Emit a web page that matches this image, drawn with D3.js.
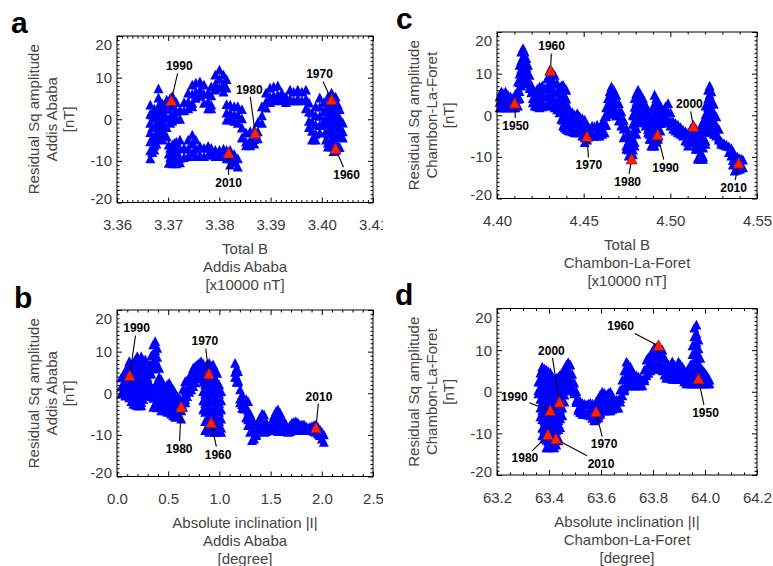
<!DOCTYPE html>
<html>
<head>
<meta charset="utf-8">
<script src="https://cdn.jsdelivr.net/npm/d3@7/dist/d3.min.js"></script>
<style>
  html, body { margin: 0; padding: 0; background: #fff; }
  svg { display: block; }
  text { font-family: "Liberation Sans", Arial, Helvetica, sans-serif; }
</style>
</head>
<body>
<svg id="fig" width="773" height="566"></svg>
<script>
// ---------------------------------------------------------------
// Residual Sq amplitude (nT) against main-field quantities.
// Each entry: [x value, [residual Sq values observed at that x]]
// ---------------------------------------------------------------

// Addis Ababa: total field B (x10000 nT)
const addisSqVsTotalB = [
  [3.3665, [3.4, 1.2, -1.0, -3.2, -5.4, -7.6, -9.5]],
  [3.3669, [1.0, -2.0, -5.0, -8.0]],
  [3.3673, [2.4, 0.2, -2.0, -4.2, -6.4, -7.4]],
  [3.3677, [1.5, -1.0, -3.5, -6.0]],
  [3.3681, [7.3, 5.1, 2.9, 0.7, -1.5, -3.7, -4.6]],
  [3.3685, [4.0, 1.8, -0.6, -3.0, -4.8]],
  [3.3689, [3.6, 1.4, -0.8, -3.0, -5.0]],
  [3.3693, [2.5, 0.3, -1.9, -4.0]],
  [3.3697, [4.6, 2.4, 0.2, -2.0, -4.2]],
  [3.3701, [-6.2, -8.4, -10.6]],
  [3.3704, [5.0, 2.8, 0.6, -1.0, -7.0, -9.2]],
  [3.3708, [5.4, 3.2, 1.0, -0.5, -6.2, -8.4, -10.7]],
  [3.3712, [4.6, 2.4, 0.2, -5.8, -8.0, -10.2]],
  [3.3716, [4.0, 1.8, 0.0, -5.5, -7.7, -10.0, -10.7]],
  [3.3723, [2.2, 0.0, -5.0, -7.2, -9.4, -10.5]],
  [3.3731, [4.0, 2.0, -7.0, -9.2]],
  [3.3739, [6.3, 4.1, 2.5, -5.0, -7.2, -9.0]],
  [3.3747, [8.2, 6.0, 3.8, 3.0, -3.8, -6.0, -8.2]],
  [3.3754, [8.7, 6.5, 5.0, -5.0, -7.2, -9.0]],
  [3.3762, [9.0, 7.0, 5.5, -6.5, -8.8]],
  [3.3770, [8.2, 6.0, 3.8, -7.0, -9.0]],
  [3.3778, [6.3, 4.1, 2.5, -6.5, -8.7]],
  [3.3784, [7.8, 5.6, 3.4, 2.5, -7.0, -8.5]],
  [3.3792, [10.6, 8.4, 7.0, -7.5, -9.0]],
  [3.3800, [11.8, 9.6, 7.5, -7.5, -9.0]],
  [3.3808, [10.6, 8.4, 6.5, -7.2, -9.0]],
  [3.3814, [9.5, 7.5, 3.5, 1.5, -0.2, -7.5, -9.5]],
  [3.3821, [3.4, 1.4, -0.2, -7.5, -9.5, -11.0]],
  [3.3829, [3.0, 1.0, -0.5, -8.5, -10.5]],
  [3.3836, [3.0, 1.0, -1.0, -9.5, -11.5]],
  [3.3844, [2.3, 0.1, -2.1, -4.5]],
  [3.3852, [-3.3, -5.5, -6.4]],
  [3.3860, [-3.0, -5.2, -6.4]],
  [3.3868, [-2.7, -4.9, -6.0]],
  [3.3875, [-0.8, -3.0, -4.7]],
  [3.3883, [3.0, 0.8, -1.0]],
  [3.3891, [6.3, 4.1, 2.7]],
  [3.3899, [7.5, 5.3, 4.0]],
  [3.3906, [7.8, 5.6, 4.4]],
  [3.3914, [8.0, 5.8, 4.7]],
  [3.3922, [6.3, 4.4]],
  [3.3930, [5.3, 4.0]],
  [3.3938, [7.0, 4.8, 4.4]],
  [3.3945, [6.5, 4.4]],
  [3.3953, [7.0, 4.8, 4.4]],
  [3.3961, [6.5, 4.4]],
  [3.3969, [7.0, 4.8, 2.5]],
  [3.3975, [3.9, 1.7, -0.5, -2.0]],
  [3.3981, [1.5, -0.7, -2.9, -5.0]],
  [3.3988, [3.0, 0.8, -1.4, -3.6, -5.0]],
  [3.3996, [5.1, 2.9, 0.7, -1.5, -3.3]],
  [3.4004, [4.0, 1.8, -0.4, -1.0]],
  [3.4008, [2.0, -0.5, -3.0, -5.0]],
  [3.4012, [5.3, 3.1, 0.9, -1.3, -3.5, -5.7, -6.7]],
  [3.4016, [4.5, 2.0, -0.5, -3.0, -5.5]],
  [3.4019, [6.3, 4.1, 1.9, -0.3, -2.5, -4.7, -6.7]],
  [3.4023, [4.0, 1.5, -1.0, -3.5, -6.0, -7.8]],
  [3.4027, [5.3, 3.1, 0.9, -1.3, -3.5, -5.7, -7.5]],
  [3.4031, [3.5, 1.0, -1.5, -4.0, -6.5]],
  [3.4035, [2.3, 0.1, -2.1, -4.3, -6.8]],
  [3.4041, [-0.9, -3.0, -4.5]]
];

// Addis Ababa: absolute inclination |I| (degree)
const addisSqVsIncl = [
  [0.042, [3.7, 1.5, -0.2]],
  [0.062, [4.2, 2.0, 0.0]],
  [0.081, [5.2, 3.0, 0.8, -0.7]],
  [0.100, [6.2, 4.0, 1.8, -0.4]],
  [0.120, [7.6, 5.4, 3.2, 1.0, -1.1]],
  [0.140, [6.5, 4.3, 2.1, -0.1, -2.0]],
  [0.159, [7.2, 5.0, 2.8, 0.6, -1.6, -2.6]],
  [0.179, [8.0, 5.8, 3.6, 1.4, -0.8, -2.8]],
  [0.198, [8.8, 6.6, 4.4, 2.2, 0.0, -2.2, -3.0]],
  [0.218, [7.5, 5.3, 3.1, 0.9, -1.3, -3.0]],
  [0.237, [8.8, 6.6, 4.4, 2.2, 0.0, -2.2, -3.0]],
  [0.256, [7.0, 4.8, 2.6, 0.4, -1.5]],
  [0.276, [8.0, 5.8, 3.6, 1.4, -0.6]],
  [0.296, [6.0, 3.8, 1.6, 0.0]],
  [0.315, [6.8, 4.6, 2.4, 0.2]],
  [0.335, [9.0, 6.8, 4.6, 1.5, -0.8]],
  [0.354, [11.6, 9.4, 7.2, 5.8, 1.0, -1.2, -3.4]],
  [0.373, [12.4, 10.2, 8.0, 6.0, 1.8, -0.4, -2.6]],
  [0.393, [10.8, 8.6, 6.5, 2.0, -0.2, -2.4, -3.5]],
  [0.412, [6.0, 3.8, 1.6, -0.6, -2.8]],
  [0.432, [3.2, 1.0, -1.2, -3.4, -4.2]],
  [0.451, [2.0, -0.2, -2.4, -4.0]],
  [0.471, [1.2, -1.0, -3.2, -4.2]],
  [0.490, [2.0, -0.2, -2.4, -4.5]],
  [0.510, [2.4, 0.2, -2.0, -4.2, -4.6]],
  [0.530, [1.5, -0.7, -2.9, -5.0]],
  [0.549, [0.8, -1.4, -3.6, -5.4]],
  [0.568, [0.0, -2.2, -4.4, -5.8]],
  [0.588, [-0.8, -3.0, -5.2, -5.4]],
  [0.607, [-1.2, -3.4, -5.6]],
  [0.627, [-2.0, -4.2, -6.2]],
  [0.646, [1.0, -1.2, -3.4]],
  [0.666, [2.8, 0.6, -1.6, -2.3]],
  [0.685, [3.0, 0.8, -0.8]],
  [0.705, [3.6, 1.4, 0.2]],
  [0.725, [4.8, 2.6, 0.8]],
  [0.744, [6.0, 3.8, 1.6]],
  [0.764, [6.4, 4.2, 2.5]],
  [0.783, [6.8, 4.6, 3.4]],
  [0.803, [7.2, 5.0, 3.6]],
  [0.822, [7.6, 5.4, 3.8]],
  [0.842, [7.0, 4.8, 2.6, 0.4, -1.8, -4.0]],
  [0.861, [6.4, 4.2, 2.0, -0.2, -2.4, -4.6, -6.8, -9.0]],
  [0.880, [6.8, 4.6, 2.4, 0.2, -2.0, -4.2, -6.4, -8.6]],
  [0.900, [7.2, 5.0, 2.8, 0.6, -1.6, -3.8, -6.0, -8.2, -9.4]],
  [0.919, [6.5, 4.3, 2.1, -0.1, -2.3, -4.5, -6.7, -8.9]],
  [0.939, [6.8, 4.6, 2.4, 0.2, -2.0, -4.2, -6.4, -8.6, -9.0]],
  [0.958, [5.6, 3.4, 1.2, -1.0, -3.2, -5.4, -7.6, -9.4]],
  [0.978, [4.8, 2.6, 0.4, -1.8, -4.0, -6.2, -8.4, -9.4]],
  [0.997, [2.0, -0.2, -2.4, -4.6, -6.8, -9.0]],
  [1.017, [0.4, -1.8, -4.0, -6.2, -8.4, -9.4]],
  [1.153, [7.2, 5.0, 3.8]],
  [1.168, [6.0, 3.8, 2.6]],
  [1.182, [5.2, 3.0, 2.6]],
  [1.202, [0.8, -1.4, -2.3]],
  [1.222, [-0.5, -2.7, -3.6]],
  [1.241, [-2.0, -3.8]],
  [1.261, [-1.5, -3.7, -5.9]],
  [1.280, [-2.0, -4.2, -6.4, -7.8]],
  [1.300, [-5.0, -7.2, -9.4]],
  [1.319, [-6.8, -9.0, -11.4]],
  [1.338, [-7.0, -9.2, -11.0]],
  [1.358, [-7.6, -9.8, -10.2]],
  [1.378, [-6.8, -9.0]],
  [1.397, [-6.0, -8.2, -8.6]],
  [1.417, [-5.0, -7.2, -9.0]],
  [1.436, [-5.2, -7.4, -9.4]],
  [1.456, [-7.0, -9.2]],
  [1.475, [-8.4, -9.0]],
  [1.495, [-7.6, -9.0]],
  [1.514, [-6.8, -8.6]],
  [1.534, [-5.4, -7.6, -9.0]],
  [1.553, [-4.4, -6.6, -8.8]],
  [1.572, [-4.0, -6.2, -8.4, -9.2]],
  [1.592, [-4.8, -7.0, -9.0]],
  [1.612, [-5.8, -8.0, -9.0]],
  [1.631, [-6.8, -9.0]],
  [1.651, [-7.6, -9.2]],
  [1.670, [-8.4, -9.4]],
  [1.690, [-7.8, -9.2]],
  [1.709, [-7.2, -9.0]],
  [1.728, [-7.0, -8.8]],
  [1.747, [-6.8, -8.6]],
  [1.767, [-7.2, -8.8]],
  [1.786, [-7.6, -9.0]],
  [1.806, [-7.6, -9.0]],
  [1.826, [-7.6, -9.0]],
  [1.845, [-8.0, -9.0]],
  [1.865, [-8.4, -9.0]],
  [1.884, [-8.2, -9.0]],
  [1.904, [-8.0, -9.0]],
  [1.923, [-7.8, -9.2]],
  [1.943, [-7.6, -9.4]],
  [1.962, [-8.2, -9.8]],
  [1.981, [-8.8, -10.2]],
  [2.000, [-9.4, -11.0]],
  [2.020, [-10.0, -11.8]]
];

// Chambon-La-Foret: total field B (x10000 nT)
const chambonSqVsTotalB = [
  [4.4015, [4.4, 3.1, 1.8]],
  [4.4025, [5.6, 3.5, 1.8]],
  [4.4035, [5.2, 3.5, 1.8]],
  [4.4049, [5.6, 3.6, 1.8]],
  [4.4063, [4.8, 3.3, 1.8]],
  [4.4078, [4.4, 2.6, 1.8]],
  [4.4092, [4.0, 1.8]],
  [4.4106, [5.0, 3.0, 1.8]],
  [4.4121, [8.0, 5.9, 3.8, 2.2]],
  [4.4130, [12.0, 9.9, 7.8, 5.7, 4.0]],
  [4.4140, [15.2, 13.1, 11.0, 8.9, 7.0]],
  [4.4150, [16.0, 13.9, 11.8, 9.7, 7.6]],
  [4.4159, [15.2, 13.1, 11.0, 8.9, 7.8]],
  [4.4169, [13.6, 11.5, 9.4, 7.6]],
  [4.4179, [12.0, 9.9, 7.8]],
  [4.4188, [9.6, 7.5, 6.4]],
  [4.4198, [7.2, 5.4]],
  [4.4207, [6.0, 4.0, 3.0]],
  [4.4217, [5.6, 3.5, 2.2]],
  [4.4232, [6.2, 4.1, 2.0]],
  [4.4246, [6.8, 4.7, 2.6, 1.8]],
  [4.4261, [7.0, 4.9, 2.8, 2.0]],
  [4.4275, [6.4, 4.3, 2.2]],
  [4.4290, [8.8, 6.7, 4.6, 2.5]],
  [4.4304, [10.8, 8.7, 6.6, 4.5, 3.0]],
  [4.4318, [10.4, 8.3, 6.2, 4.1, 2.2]],
  [4.4332, [9.6, 7.5, 5.4, 3.3, 1.8]],
  [4.4347, [7.6, 5.5, 3.4, 1.3]],
  [4.4361, [6.4, 4.3, 2.2, 0.6]],
  [4.4371, [7.0, 4.9, 2.8, 0.7, -1.0]],
  [4.4381, [7.2, 5.1, 3.0, 0.9, -1.2, -2.6]],
  [4.4390, [6.5, 4.4, 2.3, 0.2, -1.9, -3.0]],
  [4.4400, [6.0, 3.9, 1.8, -0.3, -2.4, -3.4]],
  [4.4410, [2.0, -0.1, -2.2, -3.6]],
  [4.4419, [-0.4, -2.5, -3.8]],
  [4.4434, [0.6, -1.5, -3.6, -4.0]],
  [4.4448, [0.0, -2.1, -4.2]],
  [4.4463, [0.4, -1.7, -3.8, -4.2]],
  [4.4477, [-0.4, -2.5, -4.2]],
  [4.4492, [-0.8, -2.9, -5.0]],
  [4.4506, [-1.2, -3.3, -5.4, -6.6]],
  [4.4520, [-2.4, -4.5, -6.0]],
  [4.4534, [-3.2, -5.0]],
  [4.4549, [-2.6, -4.7, -5.0]],
  [4.4563, [-2.8, -5.0]],
  [4.4578, [-2.4, -4.5, -5.0]],
  [4.4592, [-3.2, -5.0]],
  [4.4607, [-1.8, -3.9, -4.6]],
  [4.4621, [-0.4, -2.5, -4.2]],
  [4.4630, [1.8, -0.3, -2.4]],
  [4.4640, [4.0, 1.9, 0.2]],
  [4.4650, [5.6, 3.5, 1.4, 0.6]],
  [4.4660, [6.8, 4.7, 2.6, 1.0]],
  [4.4674, [6.0, 3.9, 1.8, 0.2]],
  [4.4688, [4.8, 2.7, 0.6, -0.2]],
  [4.4703, [2.8, 0.7, -1.4]],
  [4.4717, [0.8, -1.3, -2.6]],
  [4.4731, [-1.2, -3.3, -5.4]],
  [4.4746, [-3.2, -5.3, -7.4, -8.2]],
  [4.4760, [-4.2, -6.3, -8.4, -9.8]],
  [4.4775, [-4.8, -6.9, -9.0, -10.6]],
  [4.4784, [0.0, -2.1, -4.2, -6.3, -8.4, -9.5]],
  [4.4794, [4.0, 1.9, -0.2, -2.3, -4.4, -6.5, -7.4]],
  [4.4804, [5.2, 3.1, 1.0, -1.1, -3.2, -4.6]],
  [4.4814, [6.0, 3.9, 1.8, -0.3, -1.8]],
  [4.4828, [5.0, 2.9, 0.8, -1.3]],
  [4.4842, [4.0, 1.9, -0.2, -1.0]],
  [4.4857, [2.4, 0.3, -1.8, -2.6]],
  [4.4871, [0.8, -1.3, -3.4, -4.2]],
  [4.4880, [-0.4, -2.5, -4.6, -5.8]],
  [4.4890, [-1.6, -3.7, -5.8, -7.4]],
  [4.4900, [1.6, -0.5, -2.6, -4.7, -6.8, -7.4]],
  [4.4909, [4.8, 2.7, 0.6, -1.5, -3.6, -5.7, -7.4]],
  [4.4919, [4.0, 1.9, -0.2, -2.3, -4.4, -6.5]],
  [4.4929, [3.2, 1.1, -1.0, -3.1, -5.2, -5.8]],
  [4.4943, [2.2, 0.1, -2.0, -3.8]],
  [4.4958, [1.2, -0.9, -1.8]],
  [4.4972, [2.0, -0.1, -1.8]],
  [4.4987, [2.8, 0.7, -1.4, -1.8]],
  [4.5001, [0.6, -1.5, -2.6]],
  [4.5016, [-1.6, -3.4]],
  [4.5030, [-2.0, -3.8]],
  [4.5044, [-2.4, -4.2]],
  [4.5059, [-3.0, -4.6]],
  [4.5073, [-3.6, -5.0]],
  [4.5088, [-4.0, -6.1, -6.2]],
  [4.5102, [-4.4, -6.5, -7.4]],
  [4.5117, [-3.4, -5.5, -6.6]],
  [4.5131, [-2.4, -4.5, -5.8]],
  [4.5146, [-3.2, -5.3, -7.4, -8.2]],
  [4.5160, [-4.0, -6.1, -8.2, -10.3, -10.6]],
  [4.5175, [-2.8, -4.9, -7.0, -9.1, -10.6]],
  [4.5189, [-1.6, -3.7, -5.8, -7.9, -10.0, -10.6]],
  [4.5203, [2.2, 0.1, -2.0, -4.1, -6.2, -7.0]],
  [4.5218, [6.0, 3.9, 1.8, -0.3, -2.4, -3.4]],
  [4.5227, [7.0, 4.9, 2.8, 0.7, -1.4, -3.5]],
  [4.5237, [5.6, 3.5, 1.4, -0.7, -2.8, -4.2]],
  [4.5251, [2.6, 0.5, -1.6, -3.7, -4.6]],
  [4.5265, [-0.4, -2.5, -4.6, -5.0]],
  [4.5280, [-3.4, -5.5, -6.0]],
  [4.5294, [-6.4, -7.0]],
  [4.5309, [-6.8, -7.2]],
  [4.5323, [-7.2, -7.4]],
  [4.5338, [-7.6, -9.0]],
  [4.5352, [-8.0, -9.8]],
  [4.5361, [-8.8, -10.9, -12.0]],
  [4.5371, [-9.6, -11.7, -13.4]],
  [4.5386, [-10.0, -12.1, -13.2]],
  [4.5400, [-10.4, -12.5, -13.0]],
  [4.5410, [-10.6, -12.7]],
  [4.5419, [-10.8, -12.6]]
];

// Chambon-La-Foret: absolute inclination |I| (degree)
const chambonSqVsIncl = [
  [63.359, [2.3, 0.2, -0.5]],
  [63.367, [4.5, 2.4, 0.3, -1.8, -3.9, -6.0]],
  [63.374, [5.9, 3.8, 1.7, -0.4, -2.5, -4.6, -6.7, -8.8, -10.6]],
  [63.382, [5.5, 3.4, 1.3, -0.8, -2.9, -5.0, -7.1, -9.2, -11.3]],
  [63.390, [5.2, 3.1, 1.0, -1.1, -3.2, -5.3, -7.4, -9.5, -11.6, -13.5]],
  [63.397, [4.8, 2.7, 0.6, -1.5, -3.6, -5.7, -7.8, -9.9, -12.0, -13.5]],
  [63.405, [4.5, 2.4, 0.3, -1.8, -3.9, -6.0, -8.1, -10.2, -12.3, -13.5]],
  [63.413, [3.6, 1.5, -0.6, -2.7, -4.8, -6.9, -9.0, -11.1, -13.2]],
  [63.420, [2.8, 0.7, -1.4, -3.5, -5.6, -7.7, -9.8, -11.9, -13.5]],
  [63.428, [3.2, 1.1, -1.0, -3.1, -5.2, -7.3, -9.4, -11.5, -12.8]],
  [63.436, [3.5, 1.4, -0.7, -2.8, -4.9, -7.0, -9.1, -11.2, -11.8]],
  [63.443, [4.0, 1.9, -0.2, -2.3, -4.4, -6.5, -8.6]],
  [63.451, [4.5, 2.4, 0.3, -1.8, -3.9, -5.8]],
  [63.459, [5.5, 3.4, 1.3, -0.8, -2.5]],
  [63.467, [6.4, 4.3, 2.2, 0.2]],
  [63.474, [7.0, 4.9, 2.8, 0.7]],
  [63.482, [6.4, 4.3, 2.2, 1.0]],
  [63.489, [4.2, 2.1, 0.5]],
  [63.497, [2.1, 0.0, -0.5]],
  [63.505, [0.0, -2.1, -2.6]],
  [63.513, [-2.0, -4.1, -4.6]],
  [63.520, [-2.4, -4.5, -5.0]],
  [63.528, [-2.8, -4.9, -5.4]],
  [63.536, [-3.0, -5.1, -5.4]],
  [63.543, [-3.2, -5.4]],
  [63.551, [-3.0, -5.1, -5.6]],
  [63.559, [-2.8, -4.9, -5.8]],
  [63.567, [-3.0, -5.1, -6.4]],
  [63.574, [-3.2, -5.3, -7.0]],
  [63.582, [-2.4, -4.5, -6.6]],
  [63.590, [-1.6, -3.7, -5.8, -6.3]],
  [63.597, [-0.8, -2.9, -5.0, -5.4]],
  [63.605, [-0.1, -2.2, -4.3, -4.6]],
  [63.613, [-0.4, -2.5, -4.6]],
  [63.620, [-0.8, -2.9, -4.6]],
  [63.628, [-0.4, -2.5, -4.6]],
  [63.636, [-0.1, -2.2, -4.3, -4.6]],
  [63.643, [-1.0, -3.1, -4.2]],
  [63.651, [-2.0, -3.9]],
  [63.659, [-2.0, -3.9]],
  [63.667, [-2.0, -3.9]],
  [63.674, [0.4, -1.7, -2.5]],
  [63.682, [2.8, 0.7, -1.0]],
  [63.690, [5.0, 2.9, 0.8, 0.2]],
  [63.698, [7.1, 5.0, 2.9, 1.4]],
  [63.705, [6.5, 4.4, 2.3, 1.4]],
  [63.713, [5.9, 3.8, 1.7, 1.4]],
  [63.720, [5.0, 2.9, 1.4]],
  [63.728, [4.0, 1.9, 1.4]],
  [63.736, [3.8, 1.7, 1.4]],
  [63.744, [3.5, 1.4]],
  [63.751, [3.2, 1.4]],
  [63.759, [2.8, 1.4]],
  [63.767, [5.2, 3.1, 2.6]],
  [63.775, [7.6, 5.5, 3.8]],
  [63.782, [8.2, 6.1, 4.4]],
  [63.790, [8.8, 6.7, 5.0]],
  [63.797, [9.6, 7.5, 5.4]],
  [63.805, [10.5, 8.4, 6.3, 5.7]],
  [63.813, [10.6, 8.5, 6.4, 5.7]],
  [63.821, [10.7, 8.6, 6.5, 5.7]],
  [63.828, [10.4, 8.3, 6.2, 5.4]],
  [63.836, [10.0, 7.9, 5.8, 5.0]],
  [63.844, [8.2, 6.1, 4.0]],
  [63.851, [6.4, 4.3, 3.3]],
  [63.859, [6.4, 4.3, 3.3]],
  [63.867, [6.4, 4.3, 3.3]],
  [63.874, [7.2, 5.1, 3.0]],
  [63.882, [6.4, 4.3, 3.0]],
  [63.890, [6.0, 3.9, 3.0]],
  [63.898, [7.1, 5.0, 3.0]],
  [63.905, [6.5, 4.4, 3.0]],
  [63.913, [5.9, 3.8, 3.0]],
  [63.920, [5.2, 3.1, 2.4]],
  [63.928, [4.7, 2.6, 1.9]],
  [63.936, [5.5, 3.4, 1.9]],
  [63.944, [6.4, 4.3, 2.2, 1.9]],
  [63.952, [11.0, 8.9, 6.8, 4.7, 2.6, 1.9]],
  [63.959, [15.3, 13.2, 11.1, 9.0, 6.9, 4.8, 2.7, 1.9]],
  [63.967, [16.0, 13.9, 11.8, 9.7, 7.6, 5.5, 3.4, 1.9]],
  [63.975, [12.4, 10.3, 8.2, 6.1, 4.0, 1.9]],
  [63.982, [8.0, 5.9, 3.8, 1.9]],
  [63.990, [5.2, 3.1, 1.9]],
  [63.998, [4.6, 2.5, 1.9]],
  [64.005, [4.0, 1.9]],
  [64.011, [3.4, 1.9]],
  [64.017, [2.8, 1.9]]
];

// Decade markers: [year, x value, residual Sq]
const addisYearsB = [
  [1990, 3.3706, 4.4], [1980, 3.3870, -3.4], [1970, 3.4019, 4.6],
  [1960, 3.4027, -7.1], [2010, 3.3818, -8.2]
];
const addisYearsI = [
  [1990, 0.123, 4.15], [1970, 0.897, 4.6], [1980, 0.627, -3.4],
  [1960, 0.919, -7.2], [2010, 1.943, -8.4]
];
const chambonYearsB = [
  [1950, 4.4102, 2.8], [1960, 4.4309, 10.6], [1970, 4.4519, -5.2],
  [1980, 4.4777, -10.6], [1990, 4.4927, -4.8], [2000, 4.5133, -2.8],
  [2010, 4.5394, -11.6]
];
const chambonYearsI = [
  [1960, 63.8215, 11.0], [2000, 63.44, -2.6], [1990, 63.405, -4.6],
  [1970, 63.581, -4.9], [1950, 63.975, 3.0], [1980, 63.396, -10.4],
  [2010, 63.427, -11.4]
];

// Tick values and labels
const sqTicks = [-20, -10, 0, 10, 20];
const sqTickLabels = ["-20", "-10", "0", "10", "20"];
const addisBTicks = [3.36, 3.37, 3.38, 3.39, 3.40, 3.41];
const addisBTickLabels = ["3.36", "3.37", "3.38", "3.39", "3.40", "3.41"];
const addisITicks = [0.0, 0.5, 1.0, 1.5, 2.0, 2.5];
const addisITickLabels = ["0.0", "0.5", "1.0", "1.5", "2.0", "2.5"];
const chambonBTicks = [4.40, 4.45, 4.50, 4.55];
const chambonBTickLabels = ["4.40", "4.45", "4.50", "4.55"];
const chambonITicks = [63.2, 63.4, 63.6, 63.8, 64.0, 64.2];
const chambonITickLabels = ["63.2", "63.4", "63.6", "63.8", "64.0", "64.2"];

// ---------------------------------------------------------------
// Layout (pixel offsets of the year labels relative to their marker)
// ---------------------------------------------------------------
const labelOffsetsA = {1990: [8, -35], 1980: [-6, -44], 1970: [-12, -26], 1960: [11, 26], 2010: [0, 29]};
const labelOffsetsB = {1990: [7, -48], 1970: [-4, -33], 1980: [-2, 41], 1960: [7, 31], 2010: [3, -32]};
const labelOffsetsC = {1950: [1, 22], 1960: [1, -25], 1970: [2, 28], 1980: [-4, 22], 1990: [8, 32], 2000: [-4, -23], 2010: [-5, 24]};
const labelOffsetsD = {1960: [-38, -20], 2000: [-8, -52], 1990: [-36, -14], 1970: [8, 32], 1950: [7, 33], 1980: [-23, 23], 2010: [45, 24]};

const svg = d3.select("#fig");
const defs = svg.append("defs");
defs.append("clipPath").attr("id", "leftHalf")
  .append("rect").attr("x", 0).attr("y", 0).attr("width", 383).attr("height", 566);

const blueTri = "M0,-5.4L5,4.4L-5,4.4Z";
const redTri = "M0,-6.2L5.6,4.6L-5.6,4.6Z";
const tickColor = "#3a3a3a";
const titleColor = "#454545";

function minorValues(domain, step, majors) {
  const n = Math.round((domain[1] - domain[0]) / step);
  const out = [];
  for (let i = 0; i <= n; i++) {
    const v = domain[0] + i * step;
    if (!majors.some(m => Math.abs(m - v) < step * 0.01)) out.push(v);
  }
  return out;
}

function drawPanel(cfg) {
  const g = svg.append("g");
  if (cfg.clip) g.attr("clip-path", "url(#" + cfg.clip + ")");

  const x = d3.scaleLinear().domain(cfg.xDomain).range([cfg.left, cfg.right]);
  const y = d3.scaleLinear().domain([-20, 20]).range([cfg.bottom, cfg.top]);

  // scatter of blue triangles
  const pts = cfg.cols.flatMap(([xv, ys]) => ys.map(yv => [xv, yv]));
  g.append("g").selectAll("path").data(pts).join("path")
    .attr("d", blueTri)
    .attr("transform", d => `translate(${x(d[0]).toFixed(2)},${y(d[1]).toFixed(2)})`)
    .attr("fill", "#0000ff");

  // frame
  g.append("rect")
    .attr("x", cfg.left).attr("y", cfg.top)
    .attr("width", cfg.right - cfg.left).attr("height", cfg.bottom - cfg.top)
    .attr("fill", "none").attr("stroke", "#000").attr("stroke-width", 1);

  const xMinors = minorValues(cfg.xDomain, cfg.xMinor, cfg.xTicks);
  const yMinors = minorValues([-20, 20], 1, sqTicks);

  const sides = [
    {fn: d3.axisBottom, s: x, at: `translate(0,${cfg.bottom})`, maj: cfg.xTicks, min: xMinors, lab: cfg.xLabels},
    {fn: d3.axisTop, s: x, at: `translate(0,${cfg.top})`, maj: cfg.xTicks, min: xMinors, lab: null},
    {fn: d3.axisLeft, s: y, at: `translate(${cfg.left},0)`, maj: sqTicks, min: yMinors, lab: sqTickLabels},
    {fn: d3.axisRight, s: y, at: `translate(${cfg.right},0)`, maj: sqTicks, min: yMinors, lab: null}
  ];
  sides.forEach((sd, k) => {
    const minAx = sd.fn(sd.s).tickValues(sd.min).tickSize(-2.5).tickSizeOuter(0).tickFormat("");
    const mg = g.append("g").attr("transform", sd.at).call(minAx);
    mg.select(".domain").remove();
    const majAx = sd.fn(sd.s).tickValues(sd.maj).tickSize(-5).tickSizeOuter(0)
      .tickFormat(sd.lab ? (d, i) => sd.lab[i] : "")
      .tickPadding(k === 0 ? 17 : 5);
    const ag = g.append("g").attr("transform", sd.at).call(majAx);
    ag.select(".domain").remove();
    ag.selectAll("line").attr("stroke", "#000");
    mg.selectAll("line").attr("stroke", "#000");
    ag.selectAll("text")
      .attr("fill", tickColor)
      .style("font-size", "15px")
      .style("font-family", '"Liberation Sans", Arial, Helvetica, sans-serif');
    if (k === 2) {
      // end labels sit inside the axis span
      ag.selectAll("text").attr("dy", (d) => d === 20 ? "0.92em" : (d === -20 ? "0.08em" : "0.34em"));
    }
  });

  // axis titles
  const cx = (cfg.left + cfg.right) / 2;
  cfg.xTitle.forEach((t, i) => {
    g.append("text").attr("x", cx).attr("y", cfg.bottom + 46.4 + i * 18.1)
      .attr("dy", "0.35em").attr("text-anchor", "middle")
      .attr("fill", titleColor).style("font-size", "15px").text(t);
  });
  const cy = (cfg.top + cfg.bottom) / 2;
  cfg.yTitle.forEach((t, i) => {
    const tx = cfg.left - 83 + i * 17.5;
    g.append("text").attr("transform", `translate(${tx},${cy}) rotate(-90)`)
      .attr("dy", "0.35em").attr("text-anchor", "middle")
      .attr("fill", titleColor).style("font-size", "15px").text(t);
  });

  // decade markers: leader lines, labels, red triangles
  const ann = g.append("g");
  cfg.years.forEach(([yr, xv, yv]) => {
    const mx = x(xv), my = y(yv);
    const off = cfg.offsets[yr];
    const lx = mx + off[0], ly = my + off[1];
    const vx = mx - lx, vy = my - ly;
    const t = Math.min(15 / Math.max(Math.abs(vx), 1e-6), 7.5 / Math.max(Math.abs(vy), 1e-6));
    ann.append("line")
      .attr("x1", lx + vx * t).attr("y1", ly + vy * t)
      .attr("x2", mx).attr("y2", my)
      .attr("stroke", "#000").attr("stroke-width", 1.1);
    ann.append("text").attr("x", lx).attr("y", ly).attr("dy", "0.36em")
      .attr("text-anchor", "middle").attr("fill", "#000")
      .style("font-size", "12px").style("font-weight", "bold").text(yr);
  });
  ann.selectAll("path.yr").data(cfg.years).join("path").attr("class", "yr")
    .attr("d", redTri)
    .attr("transform", d => `translate(${x(d[1]).toFixed(2)},${y(d[2]).toFixed(2)})`)
    .attr("fill", "#ff2200").attr("stroke", "#8a1000").attr("stroke-width", 0.6);

  // panel letter
  svg.append("text").attr("x", cfg.letterPos[0]).attr("y", cfg.letterPos[1])
    .attr("fill", "#000").style("font-size", "30px").style("font-weight", "bold")
    .text(cfg.letter);
}

drawPanel({
  letter: "a", letterPos: [11, 33], clip: "leftHalf",
  left: 117, right: 373, top: 36, bottom: 202.5,
  xDomain: [3.36, 3.41], xTicks: addisBTicks, xLabels: addisBTickLabels, xMinor: 0.001,
  cols: addisSqVsTotalB, years: addisYearsB, offsets: labelOffsetsA,
  xTitle: ["Total B", "Addis Ababa", "[x10000 nT]"],
  yTitle: ["Residual Sq amplitude", "Addis Ababa", "[nT]"]
});
drawPanel({
  letter: "b", letterPos: [14, 308], clip: "leftHalf",
  left: 117, right: 373, top: 310, bottom: 476.5,
  xDomain: [0, 2.5], xTicks: addisITicks, xLabels: addisITickLabels, xMinor: 0.1,
  cols: addisSqVsIncl, years: addisYearsI, offsets: labelOffsetsB,
  xTitle: ["Absolute inclination |I|", "Addis Ababa", "[degree]"],
  yTitle: ["Residual Sq amplitude", "Addis Ababa", "[nT]"]
});
drawPanel({
  letter: "c", letterPos: [396, 29], clip: null,
  left: 497, right: 757, top: 32, bottom: 198.5,
  xDomain: [4.40, 4.55], xTicks: chambonBTicks, xLabels: chambonBTickLabels, xMinor: 0.01,
  cols: chambonSqVsTotalB, years: chambonYearsB, offsets: labelOffsetsC,
  xTitle: ["Total B", "Chambon-La-Foret", "[x10000 nT]"],
  yTitle: ["Residual Sq amplitude", "Chambon-La-Foret", "[nT]"]
});
drawPanel({
  letter: "d", letterPos: [395, 305], clip: null,
  left: 497, right: 757, top: 308.5, bottom: 475,
  xDomain: [63.2, 64.2], xTicks: chambonITicks, xLabels: chambonITickLabels, xMinor: 0.05,
  cols: chambonSqVsIncl, years: chambonYearsI, offsets: labelOffsetsD,
  xTitle: ["Absolute inclination |I|", "Chambon-La-Foret", "[degree]"],
  yTitle: ["Residual Sq amplitude", "Chambon-La-Foret", "[nT]"]
});
</script>
</body>
</html>
